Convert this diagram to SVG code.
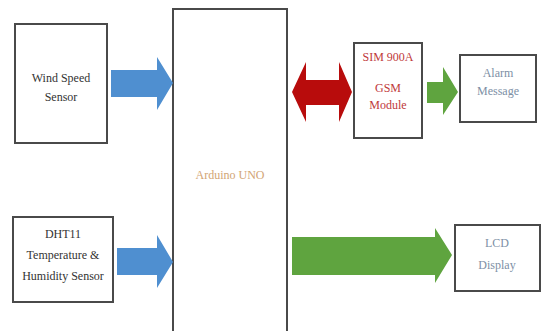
<svg xmlns="http://www.w3.org/2000/svg" width="560" height="331" viewBox="0 0 560 331">
<style>
.box{fill:#fff;stroke:#4a4a4a;stroke-width:2}
.t{font-family:"Liberation Serif","Times New Roman",serif;font-size:12px;text-anchor:middle}
.dark{fill:#333}
.blue{fill:#4f8fd0}
.green{fill:#5fa43f}
.red{fill:#b80c0c}
</style>
<rect width="560" height="331" fill="#fff"/>
<g id="wind">
<rect class="box" x="15" y="24" width="92" height="119"/>
<text class="t dark" x="61" y="82">Wind Speed</text>
<text class="t dark" x="61" y="101">Sensor</text>
</g>
<g id="dht">
<rect class="box" x="13" y="217" width="100" height="85"/>
<text class="t dark" x="63" y="238">DHT11</text>
<text class="t dark" x="63" y="259">Temperature &amp;</text>
<text class="t dark" x="63" y="280">Humidity Sensor</text>
</g>
<g id="arduino">
<rect class="box" x="173" y="9" width="114" height="340"/>
<text class="t" x="230" y="179" fill="#d2a474">Arduino UNO</text>
</g>
<g id="gsm">
<rect class="box" x="354" y="43" width="68" height="95"/>
<text class="t" x="388" y="61" fill="#c0393b">SIM 900A</text>
<text class="t" x="388" y="92" fill="#c0393b">GSM</text>
<text class="t" x="388" y="109" fill="#c0393b">Module</text>
</g>
<g id="alarm">
<rect class="box" x="460" y="55" width="76" height="67"/>
<text class="t" x="498" y="77" fill="#7d8fa5">Alarm</text>
<text class="t" x="498" y="95" fill="#7d8fa5">Message</text>
</g>
<g id="lcd">
<rect class="box" x="455" y="225" width="85" height="66"/>
<text class="t" x="497" y="247" fill="#7d8fa5">LCD</text>
<text class="t" x="497" y="269" fill="#7d8fa5">Display</text>
</g>
<g id="connectors">
<polygon class="blue" points="111,70 157,70 157,57 173,83 157,110 157,97 111,97"/>
<polygon class="blue" points="117,248 157,248 157,235 173,262 157,288 157,275 117,275"/>
<polygon class="red" points="292,92 306,62 306,80 339,80 339,62 352,92 339,122 339,105 306,105 306,122"/>
<polygon class="green" points="427,82 443,82 443,67 458,92 443,115 443,103 427,103"/>
<polygon class="green" points="292,237 435,237 435,228 452,255 435,283 435,275 292,275"/>
</g>
</svg>
